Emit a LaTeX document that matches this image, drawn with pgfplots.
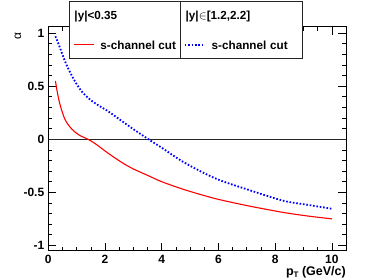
\documentclass[border=0pt]{standalone}
\usepackage{pgfplots}
\pgfplotsset{compat=1.18}
\usepackage{fontspec}
\setmainfont{Liberation Sans}
\begin{document}
\fontsize{11.7}{14}\selectfont
\begin{tikzpicture}
\path[use as bounding box] (0,0) rectangle (374pt,279pt);
\begin{axis}[
  at={(48.3pt,28.3pt)}, anchor=south west,
  scale only axis, width=297.7pt, height=224pt,
  xmin=0, xmax=10.5, ymin=-1.05, ymax=1.06,
  xtick={0,2,4,6,8,10}, minor x tick num=3,
  ytick={-1,-0.5,0,0.5,1}, minor y tick num=4,
  tick align=inside, tick pos=both,
  major tick length=8pt, minor tick length=4pt,
  every tick/.style={black, line width=0.6pt},
  axis line style={line width=0.8pt},
  /pgf/number format/assume math mode=true,
  ticklabel style={font=\fontsize{12}{14}\selectfont\bfseries},
  xticklabel style={inner sep=1pt, yshift=-3.3pt},
  xlabel={\bfseries p\raisebox{-0.35ex}{\fontsize{8}{8}\selectfont T} (GeV/c)},
  xlabel style={at={(axis description cs:1,0)}, anchor=north east, inner sep=0pt, yshift=-15.5pt, xshift=0pt, font=\fontsize{12.5}{14}\selectfont},
  ylabel={α},
  ylabel style={at={(axis description cs:-0.102,0.994)}, anchor=east, rotate=0, font=\fontsize{12}{14}\selectfont},
  legend columns=2,
  legend image code/.code={\draw[#1] (0pt,0pt) -- (20pt,0pt);},
  legend style={at={(axis description cs:0.0695,1.1147)}, anchor=north west,
    draw=black!85, line width=0.8pt, fill=white,
    inner xsep=4pt, inner ysep=7pt,
    font=\fontsize{11.7}{14}\selectfont\bfseries,
    nodes={inner sep=0pt, text height=11pt, text depth=2pt},
    row sep=17pt,
    /tikz/every even column/.append style={column sep=8pt},
    /tikz/every odd column/.append style={column sep=6pt},
    /tikz/column 4/.style={nodes={text width=87pt, align=left}}},
  legend cell align=left,
]
\addlegendimage{empty legend}
\addlegendentry{\hspace*{-26pt}|y|<0.35}
\addlegendimage{empty legend}
\addlegendentry{\hspace*{-26pt}|y|$\in$[1.2,2.2]}
\addplot[black!85, line width=1pt, forget plot] coordinates {(0,0) (10.5,0)};
\addplot[red, line width=1.1pt, smooth] coordinates {
(0.25,0.55) (0.32,0.44) (0.40,0.34) (0.50,0.25) (0.60,0.18) (0.75,0.12)
(0.93,0.07) (1.15,0.03) (1.40,0.00) (1.70,-0.05) (2.10,-0.13) (2.60,-0.22)
(3.00,-0.28) (3.50,-0.34) (4.00,-0.40) (4.80,-0.475) (5.90,-0.56) (7.10,-0.63)
(8.30,-0.69) (9.20,-0.725) (10.0,-0.75)};
\addlegendentry{s-channel cut}
\addplot[blue, line width=1.8pt, dash pattern=on 1.6pt off 1.8pt, smooth] coordinates {
(0.25,0.97) (0.40,0.87) (0.58,0.74) (0.75,0.64) (0.93,0.55) (1.15,0.46)
(1.40,0.39) (1.70,0.33) (2.10,0.265) (2.60,0.17) (3.00,0.095) (3.53,0.0)
(4.00,-0.08) (4.80,-0.22) (5.90,-0.37) (7.10,-0.48) (8.30,-0.58) (9.20,-0.62)
(10.0,-0.655)};
\addlegendentry{s-channel cut}
\end{axis}
\draw[black!85, line width=0.8pt] (180pt,278pt) -- (180pt,221pt);
\end{tikzpicture}
\end{document}
